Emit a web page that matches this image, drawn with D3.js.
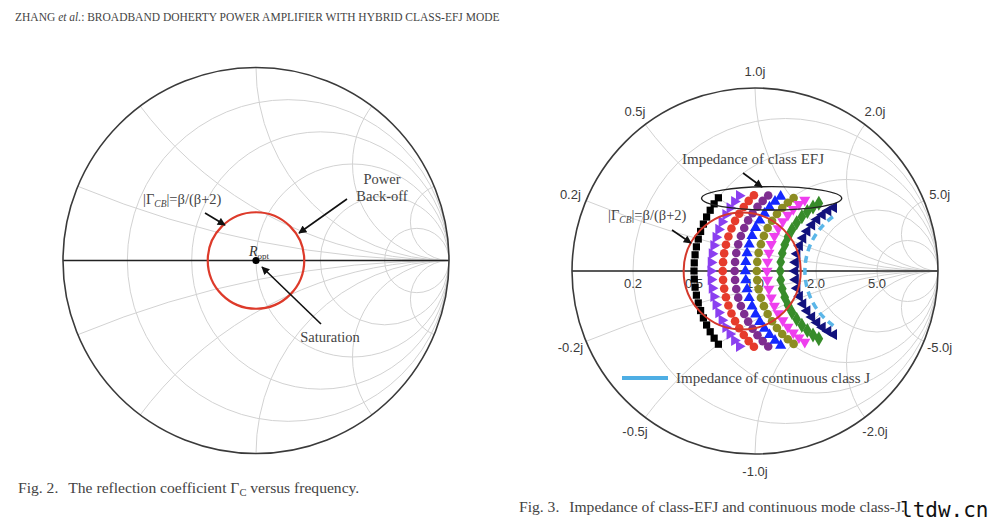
<!DOCTYPE html>
<html><head><meta charset="utf-8">
<script src="https://cdn.jsdelivr.net/npm/d3@7"></script>
<style>body{margin:0;background:#fff}svg{display:block}</style>
</head><body>
<svg id="c" width="1000" height="521"></svg>
<script>
// ---------------- data ----------------
const gridResistances = [0.2, 0.5, 1.0, 2.0, 5.0];
const gridReactances  = [0.2, 0.5, 1.0, 2.0, 5.0, -0.2, -0.5, -1.0, -2.0, -5.0];
const resistanceTickValues = [0.2, 0.5, 1.0, 2.0, 5.0];
const resistanceTickLabels = ["0.2", "0.5", "1.0", "2.0", "5.0"];
const reactanceTickValues = [0.2, 0.5, 1.0, 2.0, 5.0, -0.2, -0.5, -1.0, -2.0, -5.0];
const reactanceTickLabels = ["0.2j", "0.5j", "1.0j", "2.0j", "5.0j", "-0.2j", "-0.5j", "-1.0j", "-2.0j", "-5.0j"];

// class-EFJ impedance families: Z = R (1 + j·alpha)
const efjSeriesNames = ["EFJ-1", "EFJ-2", "EFJ-3", "EFJ-4", "EFJ-5", "EFJ-6", "EFJ-7", "EFJ-8", "EFJ-9"];
const efjResistance  = [0.50, 0.61, 0.70, 0.80, 0.90, 1.02, 1.14, 1.32, 1.56];
const alphaSweep = [-1.0, -0.9, -0.8, -0.7, -0.6, -0.5, -0.4, -0.3, -0.2, -0.1, 0.0,
                     0.1, 0.2, 0.3, 0.4, 0.5, 0.6, 0.7, 0.8, 0.9, 1.0];
// continuous class-J
const classJResistance = 1.75;
const classJAlphaRange = [-0.82, 0.86];
// |Γ_CB| circles
const fig2CircleCenter = 0.0, fig2CircleRadius = 0.25;
const fig3CircleCenter = -0.07, fig3CircleRadius = 0.32;

// ---------------- styles ----------------
const efjColors  = ["#000000", "#8b3ff0", "#e63b2c", "#7e2d90", "#1428ff", "#8c8c22", "#ee3fee", "#378c2a", "#12127d"];
const efjSymbols = [d3.symbolSquare, d3.symbolTriangle, d3.symbolCircle, d3.symbolCircle, d3.symbolTriangle,
                    d3.symbolCircle, d3.symbolTriangle, d3.symbolDiamond, d3.symbolTriangle];
const efjRotate  = [0, 90, 0, 0, 0, 0, 180, 0, -90];
const efjSize    = [52, 54, 58, 58, 54, 58, 54, 66, 54];

const SERIF = "'Liberation Serif','Times New Roman',serif";
const SANS = "'Liberation Sans',Arial,sans-serif";

const svg = d3.select("#c");
svg.append("rect").attr("width", 1000).attr("height", 521).attr("fill", "#fff");

const defs = svg.append("defs");
defs.append("marker").attr("id", "ah").attr("viewBox", "0 0 10 10")
  .attr("refX", 9).attr("refY", 5).attr("markerWidth", 9).attr("markerHeight", 8)
  .attr("markerUnits", "userSpaceOnUse").attr("orient", "auto")
  .append("path").attr("d", "M0,0 L10,5 L0,10 Z").attr("fill", "#111");

function gamma(r, x) {
  const den = (r + 1) * (r + 1) + x * x;
  return [(r * r + x * x - 1) / den, (2 * x) / den];
}

function smith(id, cx, cy, R) {
  const sx = d3.scaleLinear().domain([-1, 1]).range([cx - R, cx + R]);
  const sy = d3.scaleLinear().domain([-1, 1]).range([cy + R, cy - R]);
  const len = d => sx(d) - sx(0);
  defs.append("clipPath").attr("id", id).append("circle")
    .attr("cx", sx(0)).attr("cy", sy(0)).attr("r", len(1));
  const g = svg.append("g");
  const grid = g.append("g").attr("clip-path", `url(#${id})`)
    .attr("fill", "none").attr("stroke", "#d2d2d2").attr("stroke-width", 1);
  grid.selectAll("circle.r").data(gridResistances).join("circle").attr("class", "r")
    .attr("cx", r => sx(r / (1 + r))).attr("cy", sy(0)).attr("r", r => len(1 / (1 + r)));
  grid.selectAll("circle.x").data(gridReactances).join("circle").attr("class", "x")
    .attr("cx", sx(1)).attr("cy", x => sy(1 / x)).attr("r", x => len(1 / Math.abs(x)));
  g.append("line").attr("x1", sx(-1)).attr("x2", sx(1)).attr("y1", sy(0)).attr("y2", sy(0))
    .attr("stroke", "#222").attr("stroke-width", 1.5);
  g.append("circle").attr("cx", sx(0)).attr("cy", sy(0)).attr("r", len(1))
    .attr("fill", "none").attr("stroke", "#3a3a3a").attr("stroke-width", 1.6);
  return {g, sx, sy, len};
}

function arrow(x1, y1, x2, y2) {
  svg.append("line").attr("x1", x1).attr("y1", y1).attr("x2", x2).attr("y2", y2)
    .attr("stroke", "#111").attr("stroke-width", 1.6).attr("marker-end", "url(#ah)");
}

// ---------------- header ----------------
const hdr = svg.append("text").attr("x", 15).attr("y", 21).attr("font-family", SERIF)
  .attr("font-size", 11.5).attr("fill", "#444");
hdr.append("tspan").text("ZHANG ");
hdr.append("tspan").attr("font-style", "italic").text("et al.");
hdr.append("tspan").text(": BROADBAND DOHERTY POWER AMPLIFIER WITH HYBRID CLASS-EFJ MODE");

// ---------------- Fig. 2 ----------------
const L = smith("clipL", 256, 260.5, 193);
L.g.append("circle").attr("cx", L.sx(fig2CircleCenter)).attr("cy", L.sy(0)).attr("r", L.len(fig2CircleRadius))
  .attr("fill", "none").attr("stroke", "#dd3a2a").attr("stroke-width", 2.2);
L.g.append("circle").attr("cx", L.sx(0)).attr("cy", L.sy(0)).attr("r", 3.6).attr("fill", "#000");

const ropt = svg.append("text").attr("x", 249).attr("y", 256).attr("font-family", SERIF)
  .attr("font-size", 14).attr("fill", "#333");
ropt.append("tspan").attr("font-style", "italic").text("R");
ropt.append("tspan").attr("font-size", 9).attr("dy", 3).text("opt");

const gl = svg.append("text").attr("x", 143).attr("y", 204).attr("font-family", SERIF)
  .attr("font-size", 14.5).attr("fill", "#444");
gl.append("tspan").text("|Γ");
gl.append("tspan").attr("font-style", "italic").attr("font-size", 9.5).attr("dy", 3).text("CB");
gl.append("tspan").attr("dy", -3).text("|=β/(β+2)");
arrow(205, 213, 225, 225);

svg.append("text").attr("x", 382).attr("y", 184).attr("text-anchor", "middle").attr("font-family", SERIF)
  .attr("font-size", 14.5).attr("fill", "#444").text("Power");
svg.append("text").attr("x", 382).attr("y", 201).attr("text-anchor", "middle").attr("font-family", SERIF)
  .attr("font-size", 14.5).attr("fill", "#444").text("Back-off");
arrow(347, 199, 299, 233);

svg.append("text").attr("x", 330).attr("y", 342).attr("text-anchor", "middle").attr("font-family", SERIF)
  .attr("font-size", 14.5).attr("fill", "#444").text("Saturation");
arrow(321, 324, 262, 267);

// ---------------- Fig. 3 ----------------
const Rc = smith("clipR", 755, 271, 183);
Rc.g.selectAll("text.rt").data(resistanceTickValues).join("text").attr("class", "rt")
  .attr("x", r => Rc.sx((r - 1) / (r + 1))).attr("y", Rc.sy(0) + 12)
  .attr("text-anchor", "middle").attr("dominant-baseline", "central")
  .attr("font-family", SANS).attr("font-size", 13).attr("fill", "#3a3a3a")
  .text((d, i) => resistanceTickLabels[i]);
Rc.g.selectAll("text.xt").data(reactanceTickValues).join("text").attr("class", "xt")
  .each(function (x) {
    const [gr, gi] = gamma(0, x);
    const th = Math.atan2(gi, gr);
    const rr = 1 + 17 / 183;
    d3.select(this).attr("x", Rc.sx(rr * Math.cos(th))).attr("y", Rc.sy(rr * Math.sin(th)));
  })
  .attr("text-anchor", "middle").attr("dominant-baseline", "central")
  .attr("font-family", SANS).attr("font-size", 13).attr("fill", "#3a3a3a")
  .text((d, i) => reactanceTickLabels[i]);

// continuous class-J dashed arc
{
  const r = classJResistance;
  const p1 = gamma(r, classJAlphaRange[0] * r), p2 = gamma(r, classJAlphaRange[1] * r);
  const rad = Rc.len(1 / (1 + r));
  Rc.g.append("path")
    .attr("d", `M${Rc.sx(p1[0])},${Rc.sy(p1[1])} A${rad},${rad} 0 0 1 ${Rc.sx(p2[0])},${Rc.sy(p2[1])}`)
    .attr("fill", "none").attr("stroke", "#5bb6e8").attr("stroke-width", 3.5).attr("stroke-dasharray", "7,5");
}

// EFJ marker series
efjResistance.forEach((R, i) => {
  const pts = alphaSweep.map(a => gamma(R, a * R));
  Rc.g.append("g").attr("class", efjSeriesNames[i]).selectAll("path").data(pts).join("path")
    .attr("d", d3.symbol(efjSymbols[i], efjSize[i]))
    .attr("transform", d => `translate(${Rc.sx(d[0])},${Rc.sy(d[1])}) rotate(${efjRotate[i]})`)
    .attr("fill", efjColors[i]);
});

Rc.g.append("circle").attr("cx", Rc.sx(fig3CircleCenter)).attr("cy", Rc.sy(0)).attr("r", Rc.len(fig3CircleRadius))
  .attr("fill", "none").attr("stroke", "#d4382b").attr("stroke-width", 2);

Rc.g.append("ellipse").attr("cx", Rc.sx(0.091)).attr("cy", Rc.sy(0.397))
  .attr("rx", Rc.len(0.383)).attr("ry", Rc.len(0.064))
  .attr("fill", "none").attr("stroke", "#222").attr("stroke-width", 1.4);

svg.append("text").attr("x", 753).attr("y", 164).attr("text-anchor", "middle").attr("font-family", SERIF)
  .attr("font-size", 15).attr("fill", "#444").text("Impedance of class EFJ");
arrow(743, 173, 762, 187);

const gr3 = svg.append("text").attr("x", 608).attr("y", 220).attr("font-family", SERIF)
  .attr("font-size", 14.5).attr("fill", "#444");
gr3.append("tspan").text("|Γ");
gr3.append("tspan").attr("font-style", "italic").attr("font-size", 9.5).attr("dy", 3).text("CB");
gr3.append("tspan").attr("dy", -3).text("|=β/(β+2)");
arrow(672, 230, 691, 243);

svg.append("line").attr("x1", 622).attr("x2", 668).attr("y1", 378).attr("y2", 378)
  .attr("stroke", "#4eaee4").attr("stroke-width", 4);
svg.append("text").attr("x", 676).attr("y", 383).attr("font-family", SERIF)
  .attr("font-size", 15).attr("fill", "#444").text("Impedance of continuous class J");

// ---------------- captions ----------------
const c2 = svg.append("text").attr("x", 18).attr("y", 493).attr("font-family", SERIF)
  .attr("font-size", 15.6).attr("fill", "#444");
c2.append("tspan").text("Fig. 2.");
c2.append("tspan").attr("dx", 10).text("The reflection coefficient Γ");
c2.append("tspan").attr("font-size", 10.5).attr("dy", 3).text("C");
c2.append("tspan").attr("dy", -3).text(" versus frequency.");

const c3 = svg.append("text").attr("x", 519).attr("y", 512).attr("font-family", SERIF)
  .attr("font-size", 15.6).attr("fill", "#444");
c3.append("tspan").text("Fig. 3.");
c3.append("tspan").attr("dx", 10).text("Impedance of class-EFJ and continuous mode class-J.");

svg.append("text").attr("x", 900).attr("y", 517).attr("font-family", "'DejaVu Sans Mono',monospace")
  .attr("font-size", 21).attr("fill", "#111").text("ltdw.cn");
</script>
</body></html>
